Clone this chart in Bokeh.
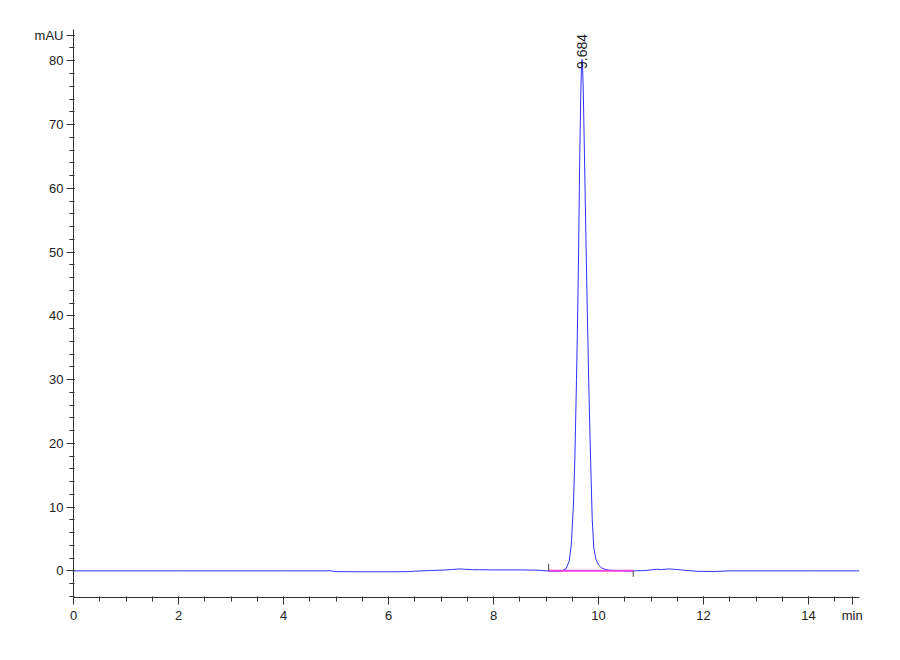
from bokeh.embed import file_html
from bokeh.resources import INLINE
from bokeh.plotting import figure
from bokeh.models import Range1d, FixedTicker
from bokeh.core.properties import value

# chromatogram trace (time in min, signal in mAU)
time_min = [0.0, 1.0, 2.0, 3.0, 4.0, 4.9, 5.0, 5.5, 6.0, 6.4, 6.5, 6.8, 7.0, 7.2,
            7.35, 7.45, 7.6, 8.0, 8.5, 8.85, 9.0, 9.1, 9.2, 9.3,
            9.38, 9.44, 9.48, 9.52, 9.55, 9.58, 9.60, 9.62, 9.64, 9.66, 9.675,
            9.684, 9.695, 9.71, 9.73, 9.76, 9.79, 9.82, 9.85, 9.88, 9.91, 9.95,
            10.0, 10.05, 10.12, 10.2, 10.3, 10.5, 10.7, 10.9, 11.1, 11.2, 11.35,
            11.5, 11.7, 11.9, 12.2, 12.5, 13.0, 14.0, 14.97]
signal_mau = [0.0, 0.0, 0.0, 0.0, 0.0, 0.0, -0.12, -0.15, -0.15, -0.12, -0.05, 0.05, 0.1, 0.2,
              0.3, 0.25, 0.18, 0.15, 0.15, 0.1, 0.0, -0.05, -0.05, 0.0,
              0.3, 1.5, 4.0, 10.0, 18.0, 30.0, 39.0, 50.0, 64.0, 74.0, 79.3,
              80.2, 79.3, 75.0, 66.0, 52.0, 39.0, 27.0, 17.0, 8.0, 3.6, 1.8,
              0.9, 0.5, 0.25, 0.1, 0.05, 0.0, 0.0, 0.05, 0.25, 0.2, 0.3,
              0.2, 0.05, -0.08, -0.1, 0.0, 0.0, 0.0, 0.0]

# integration baseline and its start / end marks
base_t = [9.05, 10.66]
base_v = [0.0, 0.0]
mark_t = [9.05, 10.66]
mark_top = [1.1, 0.0]
mark_bot = [0.0, -0.95]

peak_rt = [9.684]
peak_label = ["9.684"]
peak_label_y = [78.7]

# axis ticks; the unit names sit on extra ticks at the axis ends
x_ticks = [0, 2, 4, 6, 8, 10, 12, 14, 14.83]
x_minor = [i * 0.5 for i in range(0, 30)]
y_ticks = [0, 10, 20, 30, 40, 50, 60, 70, 80, 84]
y_minor = list(range(-4, 86, 2))
x_unit = {14.83: "min"}
y_unit = {84: "mAU"}

FONT = "Liberation Sans"

p = figure(width=892, height=648, output_backend="svg", toolbar_location=None,
           x_range=Range1d(0, 14.97), y_range=Range1d(-4.18, 84.9),
           min_border_left=73, min_border_right=33, min_border_top=29, min_border_bottom=51)
p.outline_line_color = None
p.grid.visible = False

p.line(time_min, signal_mau, line_color="#3030ff", line_width=1)
p.line(base_t, base_v, line_color="#f040e0", line_width=2)
p.segment(x0=mark_t, y0=mark_bot, x1=mark_t, y1=mark_top, line_color="#444444", line_width=1)

p.text(x=peak_rt, y=peak_label_y, text=peak_label, angle=1.5708,
       text_align="left", text_baseline="middle", text_font=value(FONT),
       text_font_size="14px", text_color="#222222")

for ax in (p.xaxis, p.yaxis):
    ax.axis_line_color = "#333333"
    ax.major_tick_line_color = "#333333"
    ax.minor_tick_line_color = "#333333"
    ax.major_tick_out = 7
    ax.major_tick_in = 1
    ax.minor_tick_out = 4
    ax.minor_tick_in = 1
    ax.major_label_text_font = FONT
    ax.major_label_text_font_size = "13px"
    ax.major_label_text_color = "#222222"
    ax.major_label_standoff = 3

p.xaxis.ticker = FixedTicker(ticks=x_ticks, minor_ticks=x_minor)
p.yaxis.ticker = FixedTicker(ticks=y_ticks, minor_ticks=y_minor)
p.xaxis.major_label_overrides = x_unit
p.yaxis.major_label_overrides = y_unit

open("out.html", "w").write(file_html(p, INLINE))
